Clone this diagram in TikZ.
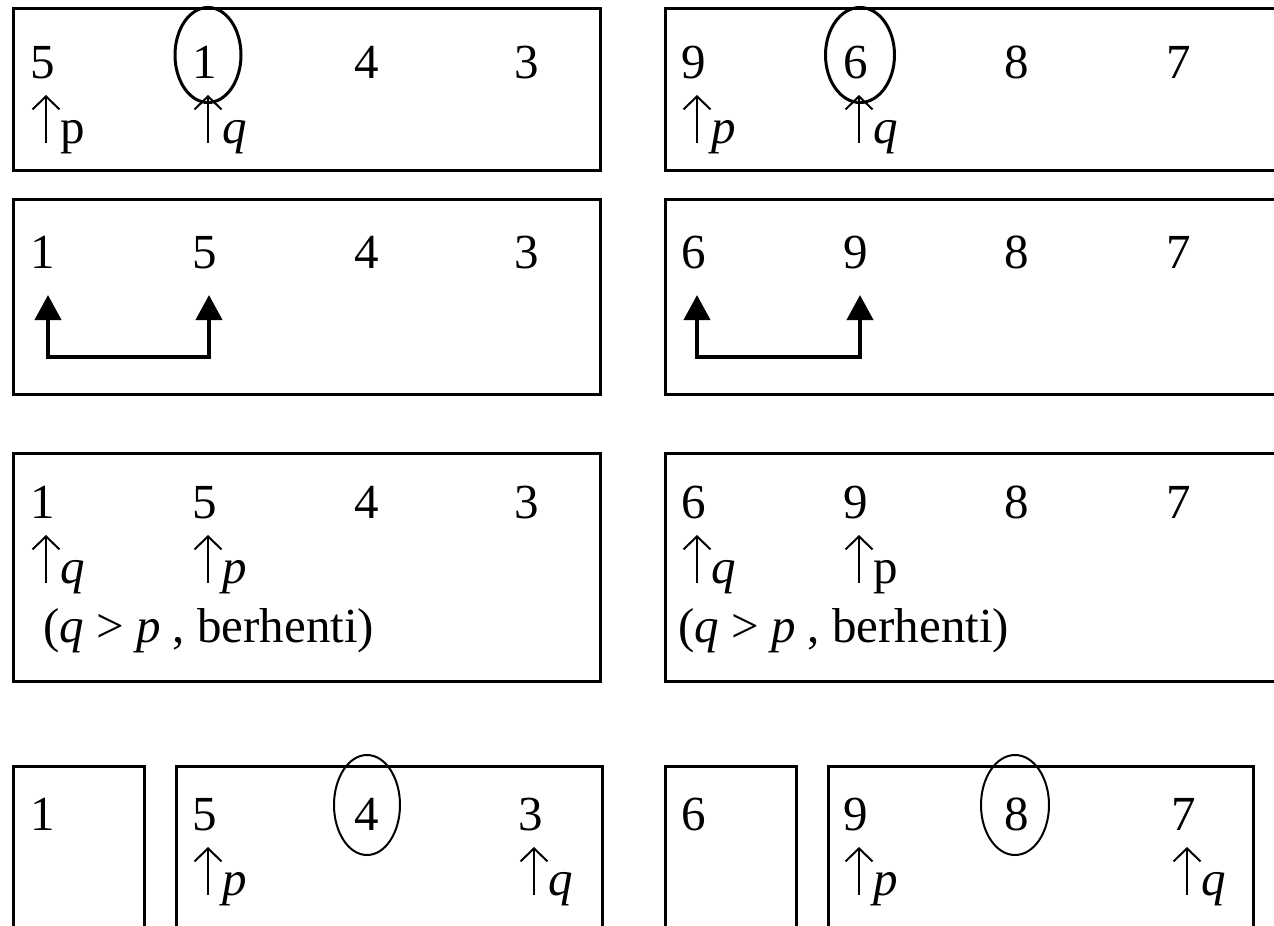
\documentclass[tikz,border=0pt]{standalone}
\usepackage{fontspec}
\setmainfont{Liberation Serif}
\usetikzlibrary{arrows.meta,shapes.geometric}
\newcommand\myfs{\fontsize{49}{58}\selectfont}
% pointer: #1 x, #2 baseline y, #3 letter, #4 name
\newcommand\ptr[4]{%
  \coordinate (#4b) at (#1+16,#2);
  \coordinate (#4t) at (#1+16,#2-48);
  \draw[uparrow] (#4b) -- (#4t);
  \node[num] (#4) at (#1+30,#2) {#3};}
\begin{document}
\begin{tikzpicture}[x=1pt,y=-1pt,
  box/.style={draw, line width=3pt},
  num/.style={anchor=base west, inner sep=0pt, font=\myfs},
  uparrow/.style={line width=2pt, -{Straight Barb[length=13pt,width=27pt]}},
  ellthick/.style={draw, ellipse, line width=3pt, inner sep=0pt},
  ellthin/.style={draw, ellipse, line width=2pt, inner sep=0pt},
  swaparrow/.style={line width=4pt, line join=miter,
    {Triangle[width=26pt,length=25pt]}-{Triangle[width=26pt,length=25pt]}}]
\useasboundingbox (0,0) rectangle (1274,926);
\clip (0,0) rectangle (1274,926);
\fill[white] (0,0) rectangle (1274,926);

% boxes
\draw[box] (13,8) rectangle (600,170);
\draw[box] (665,8) rectangle (1290,170);
\draw[box] (13,199) rectangle (600,394);
\draw[box] (665,199) rectangle (1290,394);
\draw[box] (13,453) rectangle (600,681);
\draw[box] (665,453) rectangle (1290,681);
\draw[box] (13,766) rectangle (144,940);
\draw[box] (176,766) rectangle (602,940);
\draw[box] (665,766) rectangle (796,940);
\draw[box] (828,766) rectangle (1253,940);

% row 1
\node[num] (a1) at (30,78) {5};
\node[num] (a2) at (192,78) {1};
\node[num] (a3) at (354,78) {4};
\node[num] (a4) at (514,78) {3};
\ptr{30}{143}{p}{a1p}
\ptr{192}{143}{\textit{q}}{a2q}
\node[ellthick, minimum width=66pt, minimum height=95pt] (e1) at (208,55) {};
\node[num] (b1) at (681,78) {9};
\node[num] (b2) at (843,78) {6};
\node[num] (b3) at (1004,78) {8};
\node[num] (b4) at (1166,78) {7};
\ptr{681}{143}{\textit{p}}{b1p}
\ptr{843}{143}{\textit{q}}{b2q}
\node[ellthick, minimum width=69pt, minimum height=95pt] (e2) at (860,55) {};

% row 2
\node[num] (c1) at (30,268) {1};
\node[num] (c2) at (192,268) {5};
\node[num] (c3) at (354,268) {4};
\node[num] (c4) at (514,268) {3};
\coordinate (ca) at (48,295);
\coordinate (cb) at (48,357);
\coordinate (cc) at (209,295);
\draw[swaparrow] (ca) -- (cb) -| (cc);
\node[num] (d1) at (681,268) {6};
\node[num] (d2) at (843,268) {9};
\node[num] (d3) at (1004,268) {8};
\node[num] (d4) at (1166,268) {7};
\coordinate (da) at (697,295);
\coordinate (db) at (697,357);
\coordinate (dc) at (860,295);
\draw[swaparrow] (da) -- (db) -| (dc);

% row 3
\node[num] (f1) at (30,518) {1};
\node[num] (f2) at (192,518) {5};
\node[num] (f3) at (354,518) {4};
\node[num] (f4) at (514,518) {3};
\ptr{30}{583}{\textit{q}}{f1q}
\ptr{192}{583}{\textit{p}}{f2p}
\node[num] (ft) at (43,642) {(\textit{q} > \textit{p} , berhenti)};
\node[num] (g1) at (681,518) {6};
\node[num] (g2) at (843,518) {9};
\node[num] (g3) at (1004,518) {8};
\node[num] (g4) at (1166,518) {7};
\ptr{681}{583}{\textit{q}}{g1q}
\ptr{843}{583}{p}{g2p}
\node[num] (gt) at (678,642) {(\textit{q} > \textit{p} , berhenti)};

% row 4
\node[num] (h1) at (30,830) {1};
\node[num] (h2) at (192,830) {5};
\node[num] (h3) at (354,830) {4};
\node[num] (h4) at (518,830) {3};
\ptr{192}{895}{\textit{p}}{h2p}
\ptr{518}{895}{\textit{q}}{h4q}
\node[ellthin, minimum width=66pt, minimum height=100pt] (e3) at (367,805) {};
\node[num] (k1) at (681,830) {6};
\node[num] (k2) at (843,830) {9};
\node[num] (k3) at (1004,830) {8};
\node[num] (k4) at (1171,830) {7};
\ptr{843}{895}{\textit{p}}{k2p}
\ptr{1171}{895}{\textit{q}}{k4q}
\node[ellthin, minimum width=68pt, minimum height=100pt] (e4) at (1015,805) {};
\end{tikzpicture}
\end{document}
